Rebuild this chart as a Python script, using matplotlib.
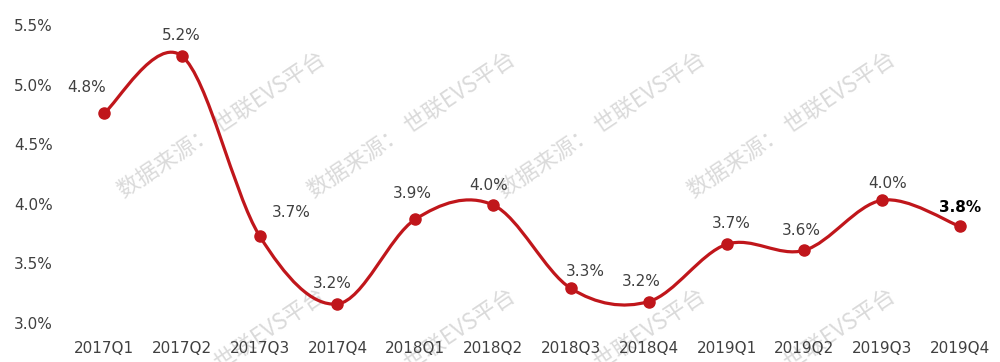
import matplotlib
matplotlib.use("Agg")
import matplotlib.pyplot as plt
from matplotlib.path import Path
from matplotlib.patches import PathPatch
import numpy as np

quarters = ["2017Q1", "2017Q2", "2017Q3", "2017Q4", "2018Q1", "2018Q2",
            "2018Q3", "2018Q4", "2019Q1", "2019Q2", "2019Q3", "2019Q4"]
values = [4.76, 5.24, 3.73, 3.16, 3.87, 3.99, 3.29, 3.18, 3.66, 3.61, 4.03, 3.81]
labels = ["4.8%", "5.2%", "3.7%", "3.2%", "3.9%", "4.0%",
          "3.3%", "3.2%", "3.7%", "3.6%", "4.0%", "3.8%"]
yticks = [3.0, 3.5, 4.0, 4.5, 5.0, 5.5]
watermark = "数据来源： 世联EVS平台"

# label offsets in pixels (style)
offsets = [(-17, 26), (-1, 21), (32, 23), (-5, 20), (-3, 26), (-4, 20),
           (14, 17), (-7, 20), (5, 21), (-3, 20), (5, 17), (0, 19)]

plt.rcParams['font.family'] = ['DejaVu Sans', 'Noto Sans CJK SC']

fig = plt.figure(figsize=(10, 3.62), dpi=100)
ax = fig.add_axes([0.0651, 0.1077, 0.9338, 0.8232])

red = "#C0161B"
grey = "#404040"

x = np.arange(len(values))
y = np.array(values)

# smooth curve (Catmull-Rom style bezier through the data points)
verts = [(x[0], y[0])]
codes = [Path.MOVETO]
n = len(x)
for i in range(n - 1):
    p0 = np.array([x[max(i - 1, 0)], y[max(i - 1, 0)]])
    p1 = np.array([x[i], y[i]])
    p2 = np.array([x[i + 1], y[i + 1]])
    p3 = np.array([x[min(i + 2, n - 1)], y[min(i + 2, n - 1)]])
    c1 = p1 + (p2 - p0) / 6.0
    c2 = p2 - (p3 - p1) / 6.0
    verts += [tuple(c1), tuple(c2), tuple(p2)]
    codes += [Path.CURVE4] * 3
ax.add_patch(PathPatch(Path(verts, codes), fill=False, edgecolor=red,
                       linewidth=2.3, zorder=3, capstyle='round'))
ax.plot(x, y, linestyle='none', marker='o', markersize=8, color=red, zorder=4)

for i, (xi, yi) in enumerate(zip(x, y)):
    bold = (i == len(x) - 1)
    ax.annotate(labels[i], (xi, yi), xytext=offsets[i], textcoords='offset pixels',
                ha='center', va='center', fontsize=11,
                color='black' if bold else grey,
                fontweight='bold' if bold else 'normal', zorder=5)

# watermarks
for cy in [125, 362]:
    for cx in [222, 412, 602, 792]:
        ax.text(cx / 1000, 1 - cy / 362, watermark, transform=fig.transFigure,
                rotation=33.8, rotation_mode='anchor', ha='center', va='center',
                fontsize=16, color='#dadada', family=['Noto Sans CJK SC', 'DejaVu Sans'],
                fontweight='light', zorder=1, clip_on=False)

ax.set_xlim(-0.5, n - 0.5)
ax.set_ylim(3.0, 5.5)
ax.set_xticks(x)
ax.set_xticklabels(quarters)
ax.set_yticks(yticks)
ax.set_yticklabels([f"{v:.1f}%" for v in yticks])
ax.tick_params(axis='both', length=0, labelsize=11, labelcolor=grey)
ax.tick_params(axis='y', pad=9)
ax.tick_params(axis='x', pad=13)
for s in ax.spines.values():
    s.set_visible(False)
ax.patch.set_visible(False)

fig.savefig("out.png", dpi=100, facecolor='white')
